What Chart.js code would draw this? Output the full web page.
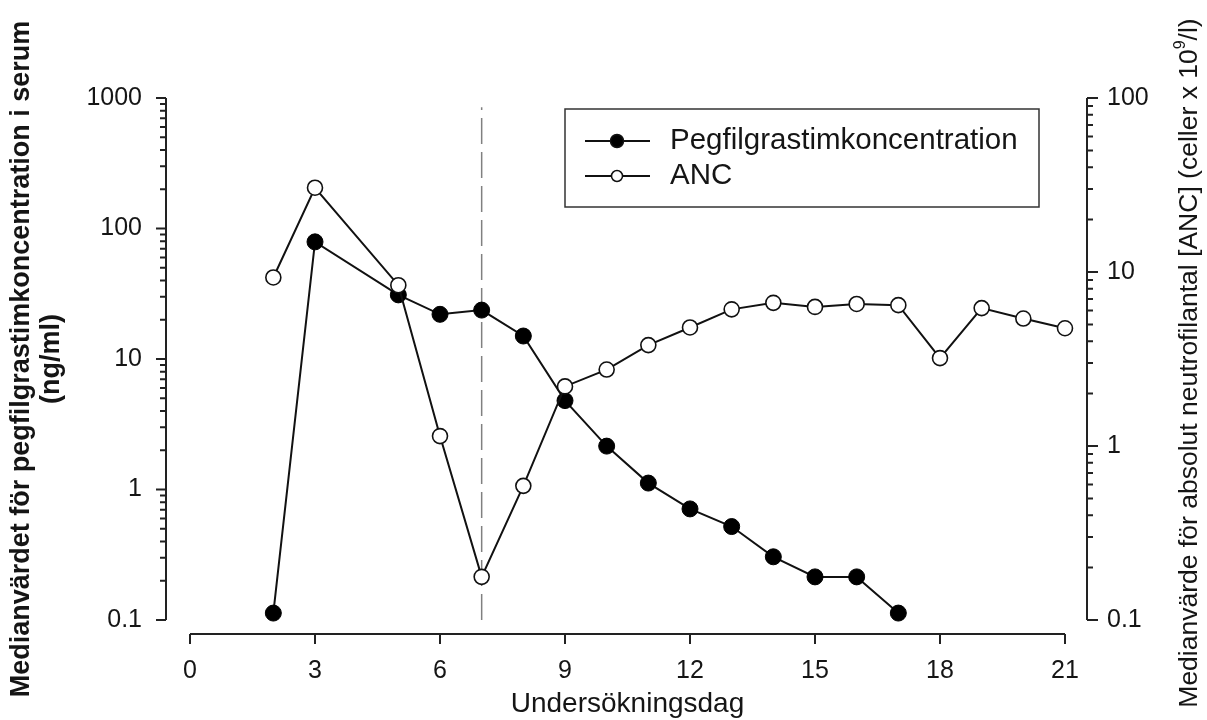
<!DOCTYPE html>
<html>
<head>
<meta charset="utf-8">
<script src="https://cdn.jsdelivr.net/npm/chart.js@4.4.1/dist/chart.umd.min.js"></script>
<style>
  html, body { margin: 0; padding: 0; background: #fff; }
  #wrap { width: 1207px; height: 720px; position: relative; }
</style>
</head>
<body>
<div id="wrap"><canvas id="chart"></canvas></div>
<script>
const dayTicks = [0, 3, 6, 9, 12, 15, 18, 21];
const leftTicks = [0.1, 1, 10, 100, 1000];
const rightTicks = [0.1, 1, 10, 100];

const pegDays = [2, 3, 5, 6, 7, 8, 9, 10, 11, 12, 13, 14, 15, 16, 17];
const pegValues = [0.113, 79, 31, 22, 23.7, 15, 4.8, 2.15, 1.12, 0.71, 0.52, 0.305, 0.214, 0.214, 0.113];

const ancDays = [2, 3, 5, 6, 7, 8, 9, 10, 11, 12, 13, 14, 15, 16, 17, 18, 19, 20, 21];
const ancValues = [9.3, 30.5, 8.4, 1.14, 0.177, 0.59, 2.2, 2.75, 3.8, 4.8, 6.1, 6.65, 6.3, 6.55, 6.45, 3.2, 6.2, 5.4, 4.75];

const markerDay = 7;
const markerRange = [0.1, 850];

const pegLabel = 'Pegfilgrastimkoncentration';
const ancLabel = 'ANC';
const xTitle = 'Undersökningsdag';
const leftTitle = ['Medianvärdet för pegfilgrastimkoncentration i serum', '(ng/ml)'];
const rightTitle = ['Medianvärde för absolut neutrofilantal [ANC] (celler x 10', '9', '/l)'];

const FONT = '"Liberation Sans", Arial, Helvetica, sans-serif';
const INK = '#151515';

function toPoints(xs, ys) {
    return xs.map((x, i) => ({ x: x, y: ys[i] }));
}

// axes drawn offset from the plot area, SigmaPlot style
const offsetAxes = {
    id: 'offsetAxes',
    afterDraw(chart) {
        const ctx = chart.ctx;
        const area = chart.chartArea;
        const xs = chart.scales.x, yl = chart.scales.y, yr = chart.scales.y2;
        const leftX = area.left - 24;
        const rightX = area.right + 22;
        const baseY = area.bottom + 14;

        ctx.save();
        ctx.strokeStyle = '#222';
        ctx.lineWidth = 2;
        ctx.lineCap = 'butt';

        // left log axis
        ctx.beginPath();
        ctx.moveTo(leftX, yl.getPixelForValue(leftTicks[leftTicks.length - 1]));
        ctx.lineTo(leftX, yl.getPixelForValue(leftTicks[0]));
        leftTicks.forEach((v, i) => {
            const py = yl.getPixelForValue(v);
            ctx.moveTo(leftX, py);
            ctx.lineTo(leftX - 10, py);
            if (i < leftTicks.length - 1) {
                for (let m = 2; m <= 9; m++) {
                    const my = yl.getPixelForValue(v * m);
                    ctx.moveTo(leftX, my);
                    ctx.lineTo(leftX - 6, my);
                }
            }
        });
        ctx.stroke();

        // right log axis
        ctx.beginPath();
        ctx.moveTo(rightX, yr.getPixelForValue(rightTicks[rightTicks.length - 1]));
        ctx.lineTo(rightX, yr.getPixelForValue(rightTicks[0]));
        rightTicks.forEach((v, i) => {
            const py = yr.getPixelForValue(v);
            ctx.moveTo(rightX, py);
            ctx.lineTo(rightX + 11, py);
            if (i < rightTicks.length - 1) {
                for (let m = 2; m <= 9; m++) {
                    const my = yr.getPixelForValue(v * m);
                    ctx.moveTo(rightX, my);
                    ctx.lineTo(rightX + 6, my);
                }
            }
        });
        ctx.stroke();

        // x axis
        ctx.beginPath();
        ctx.moveTo(xs.getPixelForValue(dayTicks[0]), baseY);
        ctx.lineTo(xs.getPixelForValue(dayTicks[dayTicks.length - 1]), baseY);
        dayTicks.forEach(v => {
            const px = xs.getPixelForValue(v);
            ctx.moveTo(px, baseY);
            ctx.lineTo(px, baseY + 10);
        });
        ctx.stroke();

        // legend box
        const bx = 565, by = 109, bw = 474, bh = 98;
        ctx.lineWidth = 1.5;
        ctx.strokeStyle = '#333';
        ctx.strokeRect(bx, by, bw, bh);
        const rows = [
            { y: 141, text: pegLabel, fill: '#000', r: 6.5 },
            { y: 176, text: ancLabel, fill: '#fff', r: 5.5 }
        ];
        rows.forEach(row => {
            ctx.strokeStyle = '#111';
            ctx.lineWidth = 2;
            ctx.beginPath();
            ctx.moveTo(585, row.y);
            ctx.lineTo(650, row.y);
            ctx.stroke();
            ctx.beginPath();
            ctx.arc(617, row.y, row.r, 0, Math.PI * 2);
            ctx.fillStyle = row.fill;
            ctx.fill();
            ctx.lineWidth = 1.5;
            ctx.stroke();
            ctx.fillStyle = INK;
            ctx.font = '29.5px ' + FONT;
            ctx.textBaseline = 'middle';
            ctx.textAlign = 'left';
            ctx.fillText(row.text, 670, row.y);
        });

        // right title, reads bottom to top, with superscript
        ctx.translate(1190, (area.top + area.bottom) / 2 + 4);
        ctx.rotate(-Math.PI / 2);
        const mainFont = '26.5px ' + FONT;
        const supFont = '16px ' + FONT;
        ctx.font = mainFont;
        const w1 = ctx.measureText(rightTitle[0]).width;
        const w3 = ctx.measureText(rightTitle[2]).width;
        ctx.font = supFont;
        const w2 = ctx.measureText(rightTitle[1]).width;
        let tx = -(w1 + w2 + w3) / 2;
        ctx.fillStyle = INK;
        ctx.textBaseline = 'middle';
        ctx.textAlign = 'left';
        ctx.font = mainFont;
        ctx.fillText(rightTitle[0], tx, 0);
        tx += w1;
        ctx.font = supFont;
        ctx.fillText(rightTitle[1], tx, -9);
        tx += w2;
        ctx.font = mainFont;
        ctx.fillText(rightTitle[2], tx, 0);
        ctx.restore();
    }
};

const ctx = document.getElementById('chart').getContext('2d');
new Chart(ctx, {
    type: 'line',
    data: {
        datasets: [{
            label: ancLabel,
            data: toPoints(ancDays, ancValues),
            yAxisID: 'y2',
            borderColor: '#111',
            borderWidth: 2,
            pointRadius: 7.5,
            pointBackgroundColor: '#fff',
            pointBorderColor: '#111',
            pointBorderWidth: 1.6,
            tension: 0
        }, {
            label: pegLabel,
            data: toPoints(pegDays, pegValues),
            yAxisID: 'y',
            borderColor: '#111',
            borderWidth: 2,
            pointRadius: 8,
            pointBackgroundColor: '#000',
            pointBorderColor: '#000',
            pointBorderWidth: 1,
            tension: 0
        }, {
            label: 'day7',
            data: markerRange.map(v => ({ x: markerDay, y: v })),
            yAxisID: 'y',
            borderColor: '#808080',
            borderWidth: 1.5,
            borderDash: [26, 8],
            pointRadius: 0
        }]
    },
    options: {
        responsive: true,
        maintainAspectRatio: false,
        animation: false,
        devicePixelRatio: 1,
        clip: false,
        layout: { padding: { top: 98, left: 0, right: 0, bottom: 0 } },
        plugins: {
            legend: { display: false },
            tooltip: { enabled: false }
        },
        scales: {
            x: {
                type: 'linear',
                min: 0,
                max: 21,
                afterBuildTicks: scale => { scale.ticks = dayTicks.map(v => ({ value: v })); },
                afterFit: scale => { scale.height = 100; },
                grid: { display: false, drawTicks: false },
                border: { display: false },
                ticks: {
                    color: INK,
                    padding: 36,
                    font: { family: FONT, size: 25 },
                    maxRotation: 0
                },
                title: {
                    display: true,
                    text: xTitle,
                    color: INK,
                    font: { family: FONT, size: 28, lineHeight: 1.1 },
                    padding: { top: 0, bottom: 0 }
                }
            },
            y: {
                type: 'logarithmic',
                position: 'left',
                min: 0.1,
                max: 1000,
                afterBuildTicks: scale => { scale.ticks = leftTicks.map(v => ({ value: v })); },
                afterFit: scale => { scale.width = 190; },
                grid: { display: false, drawTicks: false },
                border: { display: false },
                ticks: {
                    color: INK,
                    padding: 48,
                    font: { family: FONT, size: 25 },
                    callback: v => String(v)
                },
                title: {
                    display: true,
                    text: leftTitle,
                    color: INK,
                    font: { family: FONT, size: 27, weight: 'bold', lineHeight: 1.1 },
                    padding: { top: 7, bottom: 0 }
                }
            },
            y2: {
                type: 'logarithmic',
                position: 'right',
                min: 0.1,
                max: 100,
                afterBuildTicks: scale => { scale.ticks = rightTicks.map(v => ({ value: v })); },
                afterFit: scale => { scale.width = 142; },
                grid: { display: false, drawTicks: false },
                border: { display: false },
                ticks: {
                    color: INK,
                    padding: 42,
                    font: { family: FONT, size: 25 },
                    callback: v => String(v)
                }
            }
        }
    },
    plugins: [offsetAxes]
});
</script>
</body>
</html>
